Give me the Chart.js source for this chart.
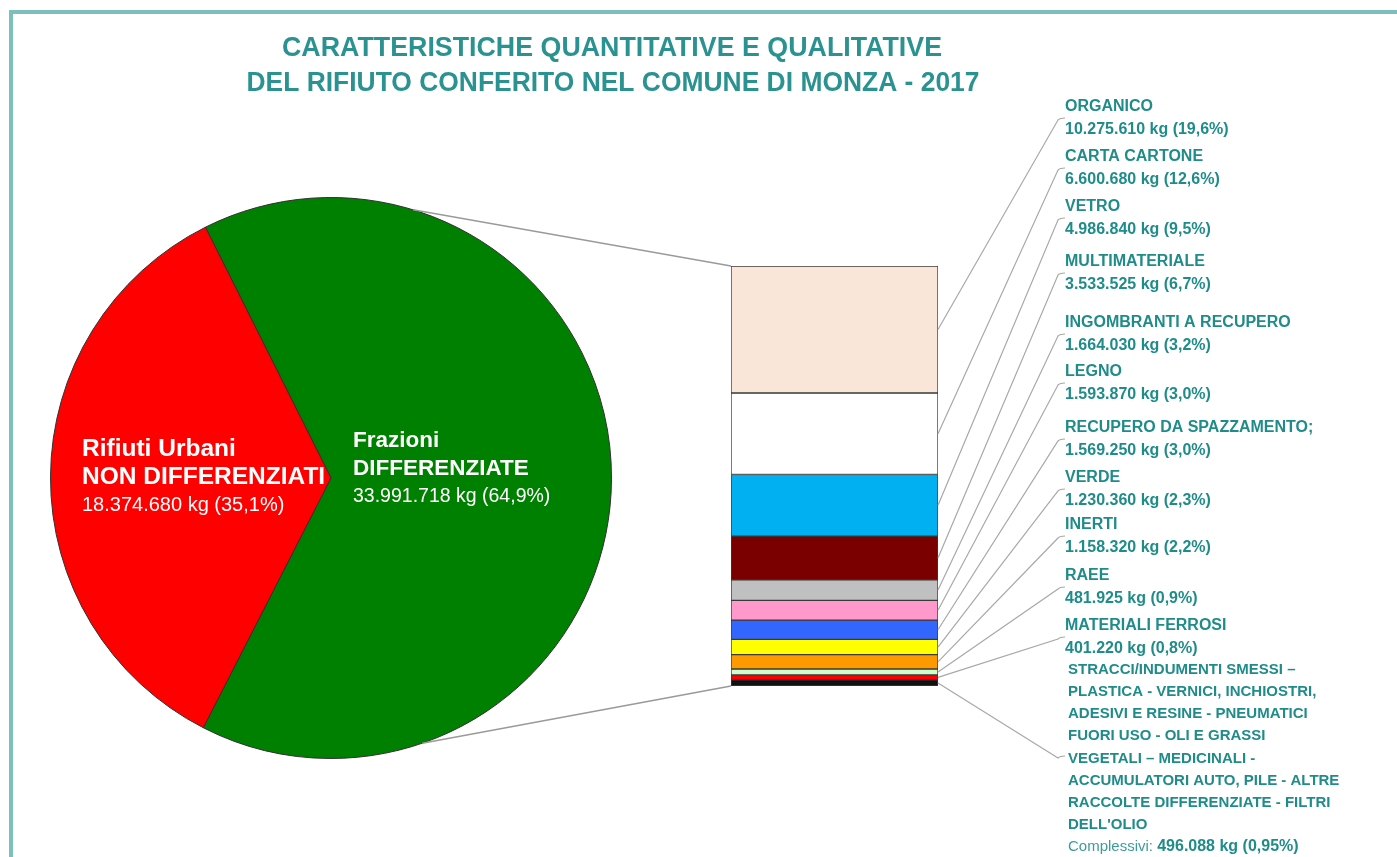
<!DOCTYPE html>
<html>
<head>
<meta charset="utf-8">
<script src="https://cdn.jsdelivr.net/npm/chart.js@4.4.1/dist/chart.umd.min.js"></script>
<style>
body { margin: 0; background: #fff; }
#wrap { position: relative; width: 1397px; height: 857px; overflow: hidden; }
#frame { position: absolute; left: 9px; top: 10px; width: 1400px; height: 860px; border-top: 4px solid #7dbfbb; border-left: 4px solid #7dbfbb; }
canvas { position: absolute; left: 0; top: 0; }
</style>
</head>
<body>
<div id="wrap">
  <div id="frame"></div>
  <canvas id="pie" width="1397" height="857"></canvas>
  <canvas id="bar" width="1397" height="857"></canvas>
</div>
<script>
// dati torta
const pieNames = [['Frazioni', 'DIFFERENZIATE'], ['Rifiuti Urbani', 'NON DIFFERENZIATI']];
const pieKg = [33991718, 18374680];
const piePct = ['64,9', '35,1'];

// dati barra (frazioni differenziate)
const categories = ['ORGANICO', 'CARTA CARTONE', 'VETRO', 'MULTIMATERIALE', 'INGOMBRANTI A RECUPERO', 'LEGNO',
    'RECUPERO DA SPAZZAMENTO;', 'VERDE', 'INERTI', 'RAEE', 'MATERIALI FERROSI', 'ALTRE'];
const kg = [10275610, 6600680, 4986840, 3533525, 1664030, 1593870, 1569250, 1230360, 1158320, 481925, 401220, 496088];
const pct = ['19,6', '12,6', '9,5', '6,7', '3,2', '3,0', '3,0', '2,3', '2,2', '0,9', '0,8', '0,95'];
const otherText = ['STRACCI/INDUMENTI SMESSI \u2013', 'PLASTICA - VERNICI, INCHIOSTRI,', 'ADESIVI E RESINE - PNEUMATICI',
    'FUORI USO - OLI E GRASSI', 'VEGETALI \u2013 MEDICINALI -', 'ACCUMULATORI AUTO, PILE - ALTRE',
    'RACCOLTE DIFFERENZIATE - FILTRI', "DELL'OLIO"];

const titleLines = ['CARATTERISTICHE QUANTITATIVE E QUALITATIVE', 'DEL RIFIUTO CONFERITO NEL COMUNE DI MONZA - 2017'];

// stile
const barColors = ['#fae6d8', '#ffffff', '#00b0f0', '#7a0000', '#c0c0c0', '#ff99cc', '#3366ff', '#ffff00', '#ff9900', '#ccffcc', '#ff0000', '#111111'];
const teal = '#1f8c8a';
const FONT = '"Liberation Sans", Arial, sans-serif';
const nameY = [107, 157, 207, 262, 323, 372, 428, 478, 525, 576, 626];

function fmt(n) {
    return String(n).replace(/\B(?=(\d{3})+(?!\d))/g, '.');
}

let pieChart = null;

// testo etichette nella torta
const pieText = {
    id: 'pieText',
    afterDatasetsDraw(chart) {
        const ctx = chart.ctx;
        // [x, y, corpo grassetto, corpo normale]
        const pos = [[353, 441, 22.5, 19.5], [82, 449, 24.5, 20]];
        ctx.save();
        ctx.fillStyle = '#ffffff';
        ctx.textBaseline = 'middle';
        ctx.textAlign = 'left';
        pieNames.forEach((nm, i) => {
            let [x, y, fb, fn] = pos[i];
            ctx.font = 'bold ' + fb + 'px ' + FONT;
            ctx.fillText(nm[0], x, y);
            ctx.fillText(nm[1], x, y + 28);
            ctx.font = fn + 'px ' + FONT;
            ctx.fillText(fmt(pieKg[i]) + ' kg (' + piePct[i] + '%)', x, y + 56);
        });
        ctx.restore();
    }
};

// titolo, connettori, etichette della barra
const barText = {
    id: 'barText',
    afterDatasetsDraw(chart) {
        const ctx = chart.ctx;
        ctx.save();
        // titolo (stretto)
        ctx.fillStyle = '#2a9290';
        ctx.font = 'bold 27px ' + FONT;
        ctx.textBaseline = 'middle';
        ctx.textAlign = 'center';
        [[612, 49, 660], [613, 84, 733]].forEach((t, i) => {
            let w = ctx.measureText(titleLines[i]).width;
            ctx.save();
            ctx.translate(t[0], t[1]);
            ctx.scale(t[2] / w, 1);
            ctx.fillText(titleLines[i], 0, 0);
            ctx.restore();
        });

        const bars = chart.data.datasets.map((d, i) => chart.getDatasetMeta(i).data[0]);
        const first = bars[0], last = bars[bars.length - 1];
        const left = first.x - first.width / 2, right = first.x + first.width / 2;

        // linee torta -> barra
        if (pieChart) {
            const arc = pieChart.getDatasetMeta(0).data[0];
            const r = arc.outerRadius;
            const a1 = -73 * Math.PI / 180, a2 = 71 * Math.PI / 180;
            ctx.strokeStyle = '#9a9a9a';
            ctx.lineWidth = 1.5;
            ctx.beginPath();
            ctx.moveTo(arc.x + r * Math.cos(a1), arc.y + r * Math.sin(a1));
            ctx.lineTo(left, Math.min(first.y, first.base));
            ctx.moveTo(arc.x + r * Math.cos(a2), arc.y + r * Math.sin(a2));
            ctx.lineTo(left, Math.max(last.y, last.base));
            ctx.stroke();
        }

        // linee guida verso le etichette
        ctx.strokeStyle = '#a8a8a8';
        ctx.lineWidth = 1.2;
        bars.forEach((b, i) => {
            let ym = (b.y + b.base) / 2;
            let ex, ey;
            if (i < nameY.length) { ex = 1058; ey = nameY[i] + 13; }
            else { ex = 1058; ey = 758; }
            ctx.beginPath();
            ctx.moveTo(right, ym);
            ctx.lineTo(ex, ey);
            ctx.quadraticCurveTo(ex + 2, ey - 2, ex + 7, ey - 2);
            ctx.stroke();
        });

        // etichette
        ctx.fillStyle = teal;
        ctx.textAlign = 'left';
        ctx.font = 'bold 16px ' + FONT;
        nameY.forEach((y, i) => {
            ctx.fillText(categories[i], 1065, y);
            ctx.fillText(fmt(kg[i]) + ' kg (' + pct[i] + '%)', 1065, y + 23);
        });
        ctx.font = 'bold 15px ' + FONT;
        otherText.forEach((t, j) => {
            ctx.fillText(t, 1068, 670 + j * 22.1);
        });
        let yc = 670 + otherText.length * 22.1;
        ctx.font = '15px ' + FONT;
        ctx.fillStyle = '#3c9c9a';
        let cw = ctx.measureText('Complessivi: ').width;
        ctx.fillText('Complessivi: ', 1068, yc);
        ctx.fillStyle = teal;
        ctx.font = 'bold 16px ' + FONT;
        ctx.fillText(fmt(kg[kg.length - 1]) + ' kg (' + pct[pct.length - 1] + '%)', 1068 + cw, yc);
        ctx.restore();
    }
};

pieChart = new Chart(document.getElementById('pie'), {
    type: 'pie',
    data: {
        labels: pieNames.map(n => n.join(' ')),
        datasets: [{
            data: pieKg,
            backgroundColor: ['#008000', '#ff0000'],
            borderColor: '#303030',
            borderWidth: 1
        }]
    },
    options: {
        responsive: false,
        animation: false,
        rotation: -26.6,
        layout: { padding: { left: 50, right: 785, top: 197, bottom: 98 } },
        plugins: { legend: { display: false }, tooltip: { enabled: false } }
    },
    plugins: [pieText]
});

new Chart(document.getElementById('bar'), {
    type: 'bar',
    data: {
        labels: ['Frazioni differenziate'],
        datasets: categories.map((c, i) => ({
            label: c,
            data: [kg[i]],
            backgroundColor: barColors[i],
            borderColor: '#3a3a3a',
            borderWidth: 1,
            borderSkipped: false,
            barPercentage: 1,
            categoryPercentage: 1
        }))
    },
    options: {
        responsive: false,
        animation: false,
        layout: { padding: { left: 731, right: 459, top: 266, bottom: 171 } },
        scales: {
            x: { stacked: true, display: false },
            y: { stacked: true, display: false, reverse: true, min: 0, max: pieKg[0] }
        },
        plugins: { legend: { display: false }, tooltip: { enabled: false } }
    },
    plugins: [barText]
});
</script>
</body>
</html>
